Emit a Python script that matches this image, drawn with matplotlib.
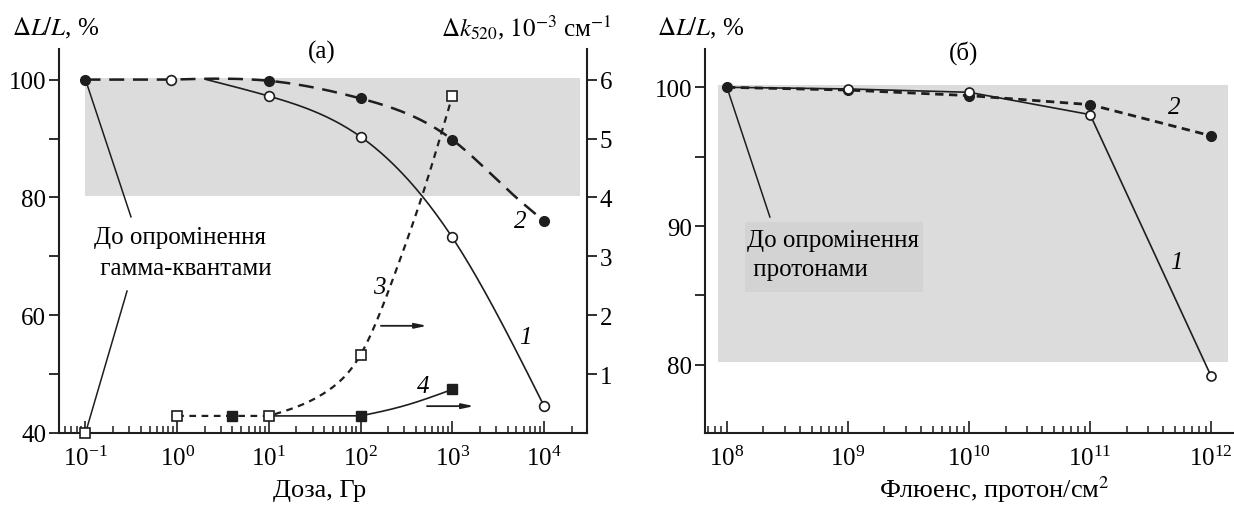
import numpy as np
import matplotlib
matplotlib.use("Agg")
import matplotlib.pyplot as plt
from matplotlib.patches import Rectangle
from matplotlib.ticker import LogLocator, NullFormatter, LogFormatterSciNotation

plt.rcParams["font.family"] = ["Liberation Serif", "DejaVu Serif"]
plt.rcParams["mathtext.fontset"] = "stix"

# -----------------------------
# PANEL (a): gamma dose
# -----------------------------
# curve 1 (open circles) and curve 2 (filled circles), left axis, %
dose_open = [0.85, 10, 100, 1000, 1e4]
loss_open = [100, 97.2, 90.3, 73.2, 44.6]
dose_fill = [0.1, 10, 100, 1000, 1e4]
loss_fill = [100, 99.8, 96.8, 89.8, 76.0]

# drawn curves 1 and 2
curve1_dose = [2.1, 10, 100, 465, 1000, 1e4]
curve1_loss = [100, 97.2, 90.3, 80.3, 73.2, 44.6]
curve2_flat_dose = [0.1, 0.85]
curve2_flat_loss = [100, 100]
curve2_dose = [0.85, 10, 100, 1000, 4570, 1e4]
curve2_loss = [100, 99.8, 96.8, 89.8, 80.5, 76.0]

# curve 3 (open squares) and curve 4 (filled squares), right axis, 1e-3 cm^-1
dose_sq_open = [0.1, 1, 10, 100, 1000]
dk_sq_open = [0.0, 0.29, 0.29, 1.33, 5.72]
dose_sq_fill = [4, 100, 1000]
dk_sq_fill = [0.29, 0.29, 0.74]

curve3_flat_dose = [1, 10]
curve3_flat_dk = [0.29, 0.29]
curve3_dose = [10, 46, 100, 245, 465, 1000]
curve3_dk = [0.29, 0.74, 1.33, 2.77, 4.01, 5.72]
curve4_flat_dose = [10, 100]
curve4_flat_dk = [0.29, 0.29]
curve4_dose = [100, 295, 1000]
curve4_dk = [0.29, 0.46, 0.74]

# -----------------------------
# PANEL (б): proton fluence
# -----------------------------
fluence = [1e8, 1e9, 1e10, 1e11, 1e12]
loss_b1 = [100, 99.88, 99.64, 98.03, 79.16]
loss_b2 = [100, 99.8, 99.4, 98.75, 96.5]

INK = "#1e1e1e"
BAND = "#dcdcdc"
FS = 18


def spline(xs, ys, n=200):
    # natural cubic spline through the read points, in log-x space
    t = np.log10(xs)
    y = np.asarray(ys, float)
    k = len(t)
    h = np.diff(t)
    A = np.zeros((k, k))
    r = np.zeros(k)
    A[0, 0] = A[-1, -1] = 1
    for i in range(1, k - 1):
        A[i, i - 1] = h[i - 1]
        A[i, i] = 2 * (h[i - 1] + h[i])
        A[i, i + 1] = h[i]
        r[i] = 3 * ((y[i + 1] - y[i]) / h[i] - (y[i] - y[i - 1]) / h[i - 1])
    c = np.linalg.solve(A, r)
    b = (y[1:] - y[:-1]) / h - h * (2 * c[:-1] + c[1:]) / 3
    d = (c[1:] - c[:-1]) / (3 * h)
    tt = np.linspace(t[0], t[-1], n)
    i = np.clip(np.searchsorted(t, tt) - 1, 0, k - 2)
    dx = tt - t[i]
    return 10 ** tt, y[i] + b[i] * dx + c[i] * dx ** 2 + d[i] * dx ** 3


def joined(fx, fy, cx, cy):
    sx, sy = spline(cx, cy)
    return np.concatenate([fx, sx]), np.concatenate([fy, sy])


fig = plt.figure(figsize=(12.34, 5.06), dpi=100)
ax = fig.add_axes([58.8 / 1234, 1 - 434 / 506, 528.2 / 1234, 384 / 506])
bx = fig.add_axes([705 / 1234, 1 - 434 / 506, 528 / 1234, 384 / 506])

# ---------- panel (a) ----------
ax.set_xscale("log")
ax.set_xlim(10 ** -1.291, 10 ** 4.469)
ax.set_ylim(40, 105.2)
ax.add_patch(Rectangle((0.1, 80.3), 10 ** 4.393 - 0.1, 20, fc=BAND, ec="none", zorder=0))

x, y = spline(curve1_dose, curve1_loss)
ax.plot(x, y, color=INK, lw=1.2, zorder=2)
x, y = joined(curve2_flat_dose, curve2_flat_loss, curve2_dose, curve2_loss)
ax.plot(x, y, color=INK, lw=1.8, ls=(0, (6, 3.5)), zorder=2)
ax.plot(dose_fill, loss_fill, "o", ms=7, color=INK, zorder=3, clip_on=False)
ax.plot(dose_open, loss_open, "o", ms=7, mfc="white", mec=INK, mew=1.2, zorder=4)

ax.plot([0.1, 10 ** -0.504], [100, 76.7], color=INK, lw=1.1)
ax.plot([10 ** -0.547, 0.1], [64.1, 40], color=INK, lw=1.1, clip_on=False)
ax.text(10 ** -0.907, 73.3, "До опромінення", fontsize=FS, va="center", ha="left")
ax.text(10 ** -0.907, 68.0, " гамма-квантами", fontsize=FS, va="center", ha="left")
ax.text(10 ** 3.80, 56.3, "1", fontsize=FS, style="italic", ha="center", va="center")
ax.text(10 ** 3.74, 76.0, "2", fontsize=FS, style="italic", ha="center", va="center")

ax2 = ax.twinx()
ax2.set_ylim(0, 6.52)
x, y = joined(curve3_flat_dose, curve3_flat_dk, curve3_dose, curve3_dk)
ax2.plot(x, y, color=INK, lw=1.6, ls=(0, (3, 2.5)), zorder=2)
x, y = joined(curve4_flat_dose, curve4_flat_dk, curve4_dose, curve4_dk)
ax2.plot(x, y, color=INK, lw=1.2, zorder=2)
ax2.plot(dose_sq_fill, dk_sq_fill, "s", ms=7.5, color=INK, zorder=3)
ax2.plot(dose_sq_open, dk_sq_open, "s", ms=7.5, mfc="white", mec=INK, mew=1.2,
         zorder=4, clip_on=False)
ax2.text(10 ** 2.20, 2.48, "3", fontsize=FS, style="italic", ha="center", va="center")
ax2.text(10 ** 2.68, 0.79, "4", fontsize=FS, style="italic", ha="center", va="center")
arrow = dict(arrowstyle="-|>,head_length=0.7,head_width=0.15", lw=1.3, color=INK,
             shrinkA=0, shrinkB=0)
ax2.annotate("", xy=(10 ** 2.724, 1.82), xytext=(10 ** 2.222, 1.82), arrowprops=arrow)
ax2.annotate("", xy=(10 ** 3.236, 0.456), xytext=(10 ** 2.724, 0.456), arrowprops=arrow)

ax.set_yticks([40, 50, 60, 70, 80, 90, 100], ["40", "", "60", "", "80", "", "100"])
ax2.set_yticks([1, 2, 3, 4, 5, 6])
for s in ["top", "right"]:
    ax.spines[s].set_visible(False)
for s in ["top", "left", "bottom"]:
    ax2.spines[s].set_visible(False)
ax2.spines["right"].set_linewidth(1.5)
ax2.spines["right"].set_color(INK)

# ---------- panel (б) ----------
bx.set_xscale("log")
bx.set_xlim(10 ** 7.819, 10 ** 12.18)
bx.set_ylim(75.08, 102.76)
bx.add_patch(Rectangle((10 ** 7.925, 80.2), 10 ** 12.14 - 10 ** 7.925, 20,
                       fc=BAND, ec="none", zorder=0))
bx.add_patch(Rectangle((10 ** 8.148, 85.24), 10 ** 9.617 - 10 ** 8.148, 5.05,
                       fc="#d3d3d3", ec="none", zorder=1))
bx.plot(fluence, loss_b1, color=INK, lw=1.2, zorder=2)
bx.plot(fluence, loss_b2, color=INK, lw=2.0, ls=(0, (3, 2)), zorder=2)
bx.plot(fluence, loss_b2, "o", ms=7, color=INK, zorder=3)
bx.plot(fluence[1:], loss_b1[1:], "o", ms=6.5, mfc="white", mec=INK, mew=1.2, zorder=4)
bx.plot([1e8, 10 ** 8.355], [100, 90.65], color=INK, lw=1.1)
bx.text(10 ** 8.165, 89.0, "До опромінення", fontsize=FS, va="center", ha="left", zorder=5)
bx.text(10 ** 8.165, 86.9, " протонами", fontsize=FS, va="center", ha="left", zorder=5)
bx.text(10 ** 11.695, 98.58, "2", fontsize=FS, style="italic", ha="center", va="center")
bx.text(10 ** 11.71, 87.4, "1", fontsize=FS, style="italic", ha="center", va="center")
bx.set_yticks([80, 85, 90, 95, 100], ["80", "", "90", "", "100"])
for s in ["top", "right"]:
    bx.spines[s].set_visible(False)

for a in (ax, bx):
    a.xaxis.set_major_locator(LogLocator(base=10, numticks=20))
    a.xaxis.set_minor_locator(LogLocator(base=10, subs=np.arange(2, 10), numticks=20))
    a.xaxis.set_minor_formatter(NullFormatter())
    a.xaxis.set_major_formatter(LogFormatterSciNotation())
    a.tick_params(axis="x", which="major", direction="in", length=9, width=1.2,
                  pad=9, labelsize=FS, color=INK)
    a.tick_params(axis="x", which="minor", direction="in", length=5, width=1.1, color=INK)
    a.tick_params(axis="y", direction="out", length=7, width=1.3, pad=2,
                  labelsize=FS, color=INK)
    for s in ["left", "bottom"]:
        a.spines[s].set_linewidth(1.5)
        a.spines[s].set_color(INK)
ax2.tick_params(axis="y", direction="out", length=7, width=1.3, pad=2,
                labelsize=FS, color=INK)

fig.text(12 / 1234, 1 - 28 / 506, r"$\Delta L/L$, %", fontsize=FS, ha="left", va="center")
fig.text(612 / 1234, 1 - 28 / 506, r"$\Delta k_{520}$, $10^{-3}$ см$^{-1}$",
         fontsize=FS, ha="right", va="center")
fig.text(657 / 1234, 1 - 28 / 506, r"$\Delta L/L$, %", fontsize=FS, ha="left", va="center")
fig.text(322 / 1234, 1 - 52 / 506, "(а)", fontsize=FS, ha="center", va="center")
fig.text(964 / 1234, 1 - 53 / 506, "(б)", fontsize=FS, ha="center", va="center")
fig.text(320 / 1234, 1 - 491 / 506, "Доза, Гр", fontsize=FS + 1, ha="center", va="center")
fig.text(994 / 1234, 1 - 490 / 506, "Флюенс, протон/см$^2$", fontsize=FS + 1,
         ha="center", va="center")

fig.savefig("out.png", dpi=100)
